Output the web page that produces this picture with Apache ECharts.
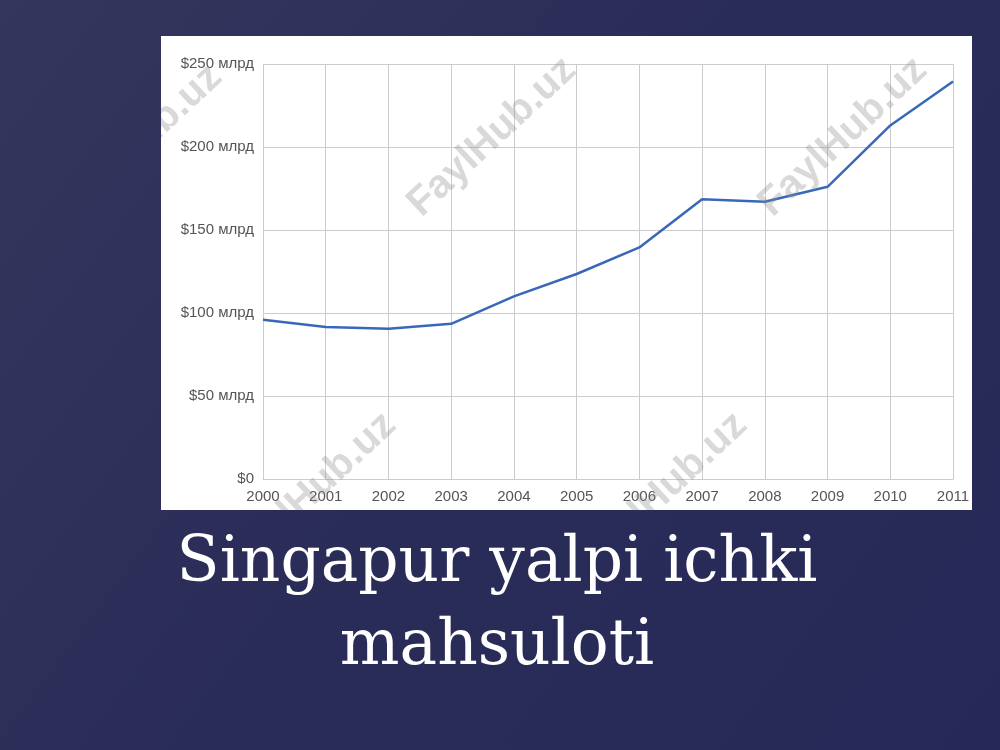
<!DOCTYPE html>
<html>
<head>
<meta charset="utf-8">
<script src="https://cdn.jsdelivr.net/npm/echarts@6/dist/echarts.min.js"></script>
<style>
html,body{margin:0;padding:0;width:1000px;height:750px;overflow:hidden;}
#c{position:absolute;left:0;top:0;width:1000px;height:750px;}
#w{position:absolute;left:161px;top:36px;width:811px;height:474px;pointer-events:none;}
</style>
</head>
<body>
<div id="c"></div>
<div id="w"></div>
<script>
var years = ['2000','2001','2002','2003','2004','2005','2006','2007','2008','2009','2010','2011'];
var gdp = [96, 91.5, 90.5, 93.5, 110, 123.5, 139.5, 168.5, 167, 176, 213, 239.5];
var titleLines = ['Singapur yalpi ichki', 'mahsuloti'];
var watermark = 'FaylHub.uz';

var chart = echarts.init(document.getElementById('c'));
chart.setOption({
  backgroundColor: {type:'linear', x:0, y:0, x2:1, y2:1, colorStops:[{offset:0,color:'#34365d'},{offset:0.5,color:'#2a2c58'},{offset:1,color:'#262857'}]},
  animation:false,
  graphic:[
    {type:'rect', z:-10, shape:{x:161,y:36,width:811,height:474}, style:{fill:'#ffffff'}},
    {type:'text', x:497, y:565, style:{text:titleLines[0], fill:'#ffffff', font:'63px "DejaVu Serif", serif', align:'center', verticalAlign:'middle'}},
    {type:'text', x:497, y:648, style:{text:titleLines[1], fill:'#ffffff', font:'63px "DejaVu Serif", serif', align:'center', verticalAlign:'middle'}}
  ],
  grid:{left:263, right:47, top:64, bottom:271, containLabel:false},
  xAxis:{type:'category', data:years, boundaryGap:false,
    axisLine:{show:true, lineStyle:{color:'#cccccc', width:1}},
    axisTick:{show:false},
    axisLabel:{color:'#555555', fontSize:15, fontFamily:'"Liberation Sans", Arial, sans-serif', margin:10},
    splitLine:{show:true, lineStyle:{color:'#cccccc', width:1}}},
  yAxis:{type:'value', min:0, max:250, interval:50,
    axisLine:{show:false}, axisTick:{show:false},
    axisLabel:{color:'#555555', fontSize:15, fontFamily:'"Liberation Sans", Arial, sans-serif', margin:9,
      formatter:function(v){ return v===0 ? '$0' : '$' + v + ' млрд'; }},
    splitLine:{show:true, lineStyle:{color:'#cccccc', width:1}}},
  series:[{type:'line', data:gdp, showSymbol:false, symbol:'none',
    lineStyle:{color:'#3a68b8', width:2.5}, z:10}]
});

var wchart = echarts.init(document.getElementById('w'));
function wm(x, y) {
  return {type:'text', x:x, y:y, rotation:0.75, silent:true,
    style:{text:watermark, fill:'rgba(140,140,140,0.33)', font:'bold 40px "Liberation Sans", Arial, sans-serif', align:'center', verticalAlign:'middle'}};
}
wchart.setOption({
  backgroundColor:'transparent',
  animation:false,
  graphic:[wm(-23,108), wm(331,101), wm(682,101), wm(151,456), wm(502,456)]
});
</script>
</body>
</html>
